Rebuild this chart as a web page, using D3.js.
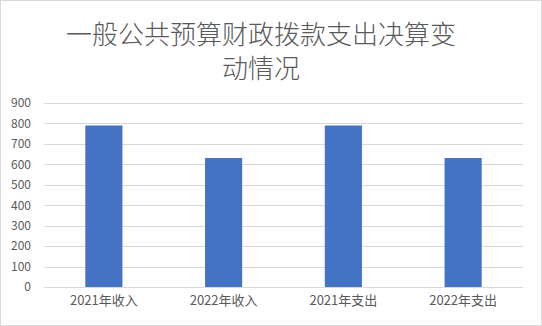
<!DOCTYPE html>
<html>
<head>
<meta charset="utf-8">
<script src="https://cdn.jsdelivr.net/npm/d3@7"></script>
<style>
  body { margin: 0; background: #fff; }
  svg text { font-family: "Noto Sans CJK SC", "Noto Sans", sans-serif; fill: #595959; }
</style>
</head>
<body>
<div id="chart"></div>
<script>
const categories = ["2021年收入", "2022年收入", "2021年支出", "2022年支出"];
const values = [790, 631, 790, 631];
const yTicks = [0, 100, 200, 300, 400, 500, 600, 700, 800, 900];
const titleLines = ["一般公共预算财政拨款支出决算变", "动情况"];

const width = 542, height = 326;
const margin = {top: 103, right: 19, bottom: 39, left: 44};

const svg = d3.select("#chart")
    .append("svg")
    .attr("width", width)
    .attr("height", height);

// chart border
svg.append("rect")
    .attr("x", 0.5).attr("y", 0.5)
    .attr("width", width - 1).attr("height", height - 1)
    .attr("fill", "#fff")
    .attr("stroke", "#d9d9d9");

const xScale = d3.scaleBand()
    .domain(categories)
    .range([margin.left, width - margin.right])
    .paddingInner(0.69)
    .paddingOuter(0.345);

const yScale = d3.scaleLinear()
    .domain([0, 900])
    .range([height - margin.bottom, margin.top]);

// gridlines
svg.append("g")
    .selectAll("line")
    .data(yTicks)
    .join("line")
      .attr("x1", margin.left)
      .attr("x2", width - margin.right)
      .attr("y1", d => Math.round(yScale(d)) + 0.5)
      .attr("y2", d => Math.round(yScale(d)) + 0.5)
      .attr("stroke", "#d9d9d9")
      .attr("stroke-width", 1);

// y axis labels
const yAxis = svg.append("g")
    .attr("transform", `translate(${margin.left - 13},0)`)
    .call(d3.axisLeft(yScale).tickValues(yTicks).tickSize(0).tickPadding(0));
yAxis.select(".domain").remove();
yAxis.selectAll("text")
    .attr("font-size", 12)
    .style("font-family", "'Noto Sans CJK SC', 'Noto Sans', sans-serif")
    .attr("fill", "#595959");

// bars
svg.append("g")
    .selectAll("rect")
    .data(values)
    .join("rect")
      .attr("x", (d, i) => xScale(categories[i]))
      .attr("y", d => yScale(d))
      .attr("width", xScale.bandwidth())
      .attr("height", d => yScale(0) - yScale(d))
      .attr("fill", "#4472c4");

// x axis labels
const xAxis = svg.append("g")
    .attr("transform", `translate(0,${height - margin.bottom})`)
    .call(d3.axisBottom(xScale).tickSize(0).tickPadding(9));
xAxis.select(".domain").remove();
xAxis.selectAll("text")
    .attr("font-size", 13)
    .style("font-family", "'Noto Sans CJK SC', 'Noto Sans', sans-serif")
    .attr("fill", "#595959");

// title
svg.append("g")
    .selectAll("text")
    .data(titleLines)
    .join("text")
      .attr("x", 261)
      .attr("y", (d, i) => 44 + i * 34)
      .attr("text-anchor", "middle")
      .attr("font-size", 26)
      .attr("font-weight", 300)
      .text(d => d);
</script>
</body>
</html>
